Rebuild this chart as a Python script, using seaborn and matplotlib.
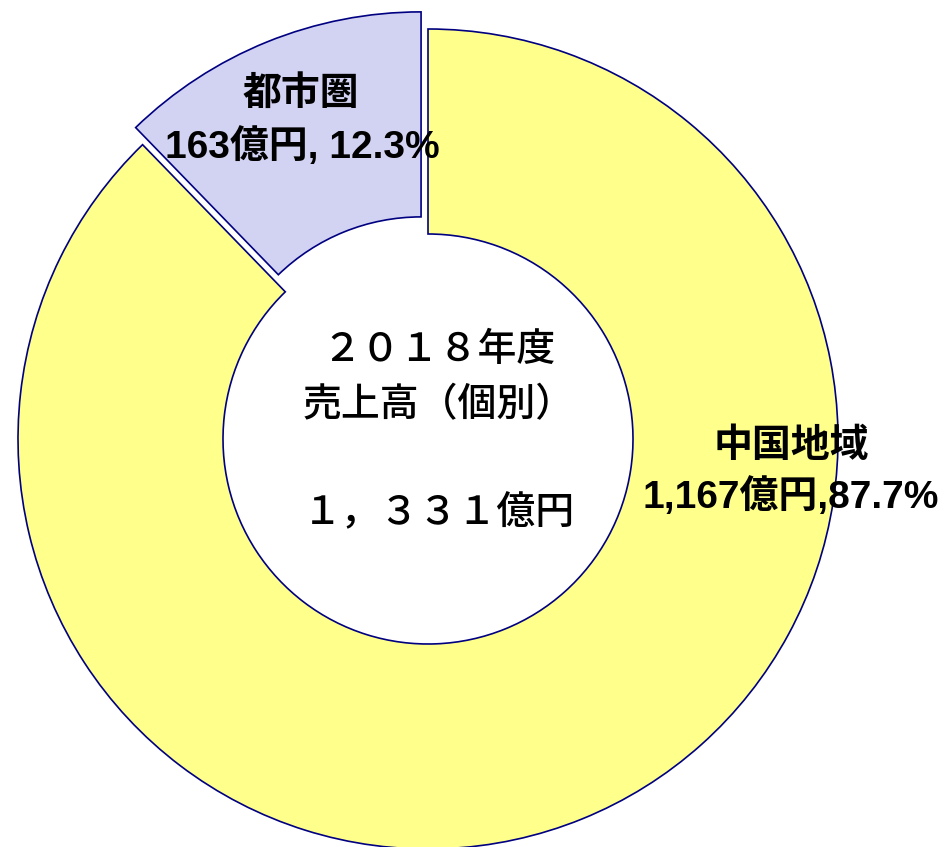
import matplotlib
matplotlib.use("Agg")
import matplotlib.pyplot as plt
import seaborn as sns

regions = ["中国地域", "都市圏"]
sales = [1167, 163]
amount_lines = ["1,167億円,87.7%", "163億円, 12.3%"]
center_lines = ["２０１８年度", "売上高（個別）", "１，３３１億円"]
colors = ["#FFFF8C", "#D2D2F2"]
explode = [0.0, 0.045]

sns.set_theme(style="white")
plt.rcParams['font.family'] = ['Noto Sans CJK JP', 'DejaVu Sans']
label_family = ['Liberation Sans', 'Noto Sans CJK JP', 'DejaVu Sans']

W, H = 946, 847
fig = plt.figure(figsize=(W / 100, H / 100), dpi=100)
ax = fig.add_axes([0, 0, 1, 1])

cx, cy, R = 428, 439, 410
ax.pie(sales, colors=colors, startangle=90, counterclock=False,
       explode=explode, radius=1.0,
       wedgeprops=dict(width=0.5, edgecolor="#000080", linewidth=1.2))
ax.set_xlim(-cx / R, (W - cx) / R)
ax.set_ylim(-(H - cy) / R, cy / R)
ax.set_aspect('equal')
ax.axis('off')

def px(x, y):
    return ((x - cx) / R, (cy - y) / R)

# 中国地域 label
ax.text(*px(791, 447), regions[0], ha='center', va='center',
        fontsize=28, fontweight='bold', family=label_family, color='black')
ax.text(*px(791, 497), amount_lines[0], ha='center', va='center',
        fontsize=28, fontweight='bold', family=label_family, color='black')
# 都市圏 label
ax.text(*px(301, 95), regions[1], ha='center', va='center',
        fontsize=28, fontweight='bold', family=label_family, color='black')
ax.text(*px(302, 147), amount_lines[1], ha='center', va='center',
        fontsize=28, fontweight='bold', family=label_family, color='black')

# center text
for (yy, s) in zip([350, 405, 513], center_lines):
    ax.text(*px(439, yy), s, ha='center', va='center',
            fontsize=28, fontweight='medium', color='black')

fig.savefig("out.png", dpi=100, facecolor='white')
